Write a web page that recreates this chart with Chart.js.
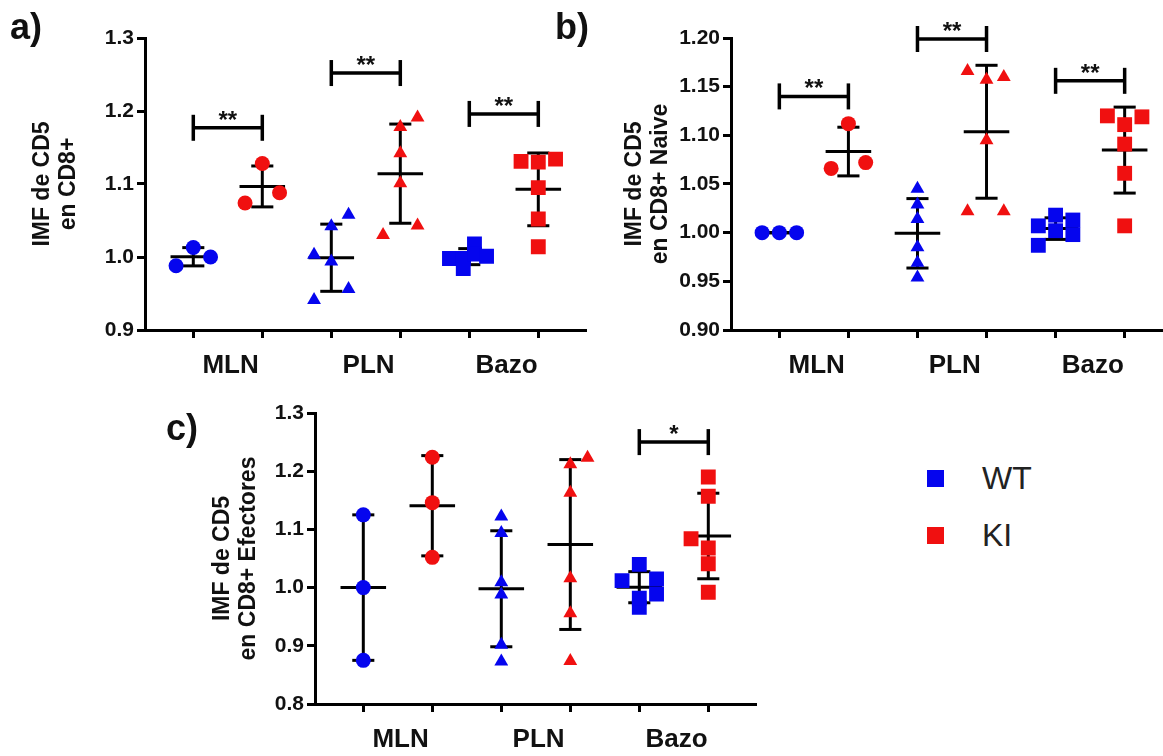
<!DOCTYPE html>
<html>
<head>
<meta charset="utf-8">
<script src="https://cdn.jsdelivr.net/npm/chart.js@4.4.1/dist/chart.umd.min.js"></script>
<style>
  html, body { margin: 0; padding: 0; background: #fff; overflow: hidden; }
  #page { position: relative; width: 1163px; height: 756px; overflow: hidden;
          font-family: "Liberation Sans", Arial, Helvetica, sans-serif; }
  canvas { position: absolute; }
  .tag { position: absolute; font-weight: bold; font-size: 36px; line-height: 1; color: #111; }
  #legend { position: absolute; left: 927px; top: 450px; font-size: 32px; color: #222; }
  .item { display: flex; align-items: center; height: 57px; }
  .sw { width: 17px; height: 17px; margin-right: 38px; }
</style>
</head>
<body>
<div id="page">
  <canvas id="ca" width="600" height="390" style="left:0;top:0"></canvas>
  <canvas id="cb" width="600" height="390" style="left:590px;top:0"></canvas>
  <canvas id="cc" width="620" height="376" style="left:150px;top:380px"></canvas>
  <div class="tag" style="left:10px;top:9px">a)</div>
  <div class="tag" style="left:555px;top:9px">b)</div>
  <div class="tag" style="left:166px;top:410px">c)</div>
  <div id="legend"></div>
</div>
<script>
const family = '"Liberation Sans", Arial, Helvetica, sans-serif';

const categories = ['MLN', 'PLN', 'Bazo'];
const seriesNames = ['WT', 'KI'];
const seriesColors = ['#0505ee', '#f01010'];

// a) IMF de CD5 en CD8+
const aTitle = ['IMF de CD5', 'en CD8+'];
const aTicks = [0.9, 1.0, 1.1, 1.2, 1.3];
const aWT = [[0.988, 1.013, 1.000], [1.003, 0.941, 0.994, 1.042, 1.058, 0.956], [0.998, 0.984, 0.998, 1.018, 1.004, 1.001]];
const aKI = [[1.074, 1.128, 1.088], [1.030, 1.178, 1.142, 1.101, 1.191, 1.043], [1.131, 1.130, 1.134, 1.095, 1.052, 1.014]];
const aSig = ['**', '**', '**'];
const aSigY = [1.177, 1.252, 1.196];

// b) IMF de CD5 en CD8+ Naive
const bTitle = ['IMF de CD5', 'en CD8+ Naive'];
const bTicks = [0.90, 0.95, 1.00, 1.05, 1.10, 1.15, 1.20];
const bWT = [[1.000, 1.000, 1.000], [1.045, 1.029, 1.014, 0.985, 0.969, 0.954], [1.007, 0.987, 1.018, 1.002, 1.013, 0.998]];
const bKI = [[1.066, 1.112, 1.072], [1.166, 1.157, 1.160, 1.095, 1.022, 1.022], [1.120, 1.111, 1.119, 1.091, 1.061, 1.007]];
const bSig = ['**', '**', '**'];
const bSigY = [1.140, 1.199, 1.156];

// c) IMF de CD5 en CD8+ Efectores
const cTitle = ['IMF de CD5', 'en CD8+ Efectores'];
const cTicks = [0.8, 0.9, 1.0, 1.1, 1.2, 1.3];
const cWT = [[1.125, 1.000, 0.875], [1.122, 1.094, 1.009, 0.988, 0.902, 0.873], [1.012, 1.040, 1.015, 0.989, 0.966, 0.982]];
const cKI = [[1.224, 1.146, 1.052], [1.212, 1.223, 1.163, 1.016, 0.956, 0.874], [1.190, 1.157, 1.084, 1.068, 1.041, 0.992]];
const cSig = ['', '', '*'];
const cSigY = [null, null, 1.250];

// where each point sits inside its column (-1 left, 0 centre, 1 right)
const aJitWT = [[-1, 0, 1], [-1, -1, 0, 0, 1, 1], [-1.15, -0.35, -0.35, 0.3, 0.3, 1]];
const aJitKI = [[-1, 0, 1], [-1, 0, 0, 0, 1, 1], [-1, 0, 1, 0, 0, 0]];
const bJitWT = [[-1, 0, 1], [0, 0, 0, 0, 0, 0], [-1, -1, 0, 0, 1, 1]];
const bJitKI = [[-1, 0, 1], [-1.1, 0, 1, 0, -1.1, 1], [-1, 0, 1, 0, 0, 0]];
const cJitWT = [[0, 0, 0], [0, 0, 0, 0, 0, 0], [-1, 0, 1, 1, 0, 0]];
const cJitKI = [[0, 0, 0], [0, 1, 0, 0, 0, 0], [0, 0, -1, 0, 0, 0]];

const markerStyle = ['circle', 'triangle', 'rect'];
const markerSize = [7.5, 8, 10.5];
const jitterStep = 0.25;
const meanHalf = 0.33, capHalf = 0.16;

const mean = a => a.reduce((s, v) => s + v, 0) / a.length;
const stdev = a => { const m = mean(a); return Math.sqrt(a.reduce((s, v) => s + (v - m) ** 2, 0) / (a.length - 1)); };
const colX = (g, s) => 2 * g + s + 1;
const labelPos = categories.map((c, g) => 2 * g + 1.5 + 0.04);

// legend
document.getElementById('legend').innerHTML = seriesNames.map((n, i) =>
  `<div class="item"><div class="sw" style="background:${seriesColors[i]}"></div><span>${n}</span></div>`).join('');

function marksPlugin(values, sig, sigY) {
  return {
    id: 'marks',
    beforeDatasetsDraw(chart) {
      const { ctx, scales: { x, y } } = chart;
      ctx.save();
      ctx.strokeStyle = '#000';
      ctx.lineCap = 'butt';
      const seg = (x1, y1, x2, y2) => { ctx.beginPath(); ctx.moveTo(x1, y1); ctx.lineTo(x2, y2); ctx.stroke(); };
      ctx.lineWidth = 3;
      values.forEach((ser, s) => ser.forEach((vals, g) => {
        const c = colX(g, s);
        const m = mean(vals), d = stdev(vals);
        const px = x.getPixelForValue(c);
        const mw = x.getPixelForValue(c + meanHalf) - px;
        const cw = x.getPixelForValue(c + capHalf) - px;
        const yt = y.getPixelForValue(m + d), yb = y.getPixelForValue(m - d), ym = y.getPixelForValue(m);
        seg(px, yt, px, yb);
        seg(px - cw, yt, px + cw, yt);
        seg(px - cw, yb, px + cw, yb);
        seg(px - mw, ym, px + mw, ym);
      }));
      ctx.lineWidth = 3.5;
      ctx.fillStyle = '#111';
      ctx.font = `bold 24px ${family}`;
      ctx.textAlign = 'center';
      ctx.textBaseline = 'alphabetic';
      sig.forEach((txt, g) => {
        if (!txt) return;
        const x1 = x.getPixelForValue(colX(g, 0)), x2 = x.getPixelForValue(colX(g, 1));
        const yp = y.getPixelForValue(sigY[g]);
        seg(x1, yp, x2, yp);
        seg(x1, yp - 13, x1, yp + 13);
        seg(x2, yp - 13, x2, yp + 13);
        ctx.fillText(txt, (x1 + x2) / 2, yp);
      });
      ctx.restore();
    }
  };
}

function panel(id, p) {
  const datasets = seriesNames.map((name, s) => ({
    label: name,
    data: p.values[s].flatMap((vals, g) => vals.map((v, i) => ({ x: colX(g, s) + p.jitter[s][g][i] * jitterStep, y: v, g }))),
    pointBackgroundColor: seriesColors[s],
    pointBorderColor: seriesColors[s],
    pointBorderWidth: 0,
    pointStyle: c => markerStyle[c.raw ? c.raw.g : 0],
    pointRadius: c => markerSize[c.raw ? c.raw.g : 0],
  }));
  const xTicks = [1, 2, 3, 4, 5, 6].concat(labelPos).sort((a, b) => a - b);
  new Chart(document.getElementById(id), {
    type: 'scatter',
    data: { datasets },
    plugins: [marksPlugin(p.values, p.sig, p.sigY)],
    options: {
      responsive: false,
      animation: false,
      events: [],
      layout: { padding: p.pad },
      plugins: { legend: { display: false }, tooltip: { enabled: false } },
      scales: {
        x: {
          type: 'linear', min: 0.3, max: 6.7,
          afterBuildTicks: sc => { sc.ticks = xTicks.map(v => ({ value: v })); },
          afterFit: sc => { sc.height = p.xHeight; },
          ticks: {
            autoSkip: false, maxRotation: 0, padding: 12, color: '#111',
            font: { family, size: 26, weight: 'bold' },
            callback: v => { const k = labelPos.indexOf(v); return k >= 0 ? categories[k] : ''; }
          },
          grid: {
            drawOnChartArea: false, tickLength: 8, tickWidth: 3,
            tickColor: c => (c.tick && Number.isInteger(c.tick.value)) ? '#000' : 'rgba(0,0,0,0)'
          },
          border: { display: true, width: 3, color: '#000' }
        },
        y: {
          type: 'linear', min: p.ticks[0], max: p.ticks[p.ticks.length - 1],
          afterBuildTicks: sc => { sc.ticks = p.ticks.map(v => ({ value: v })); },
          afterFit: sc => { sc.width = p.yWidth; },
          ticks: {
            padding: 3, color: '#111',
            font: { family, size: 21, weight: 'bold' },
            callback: v => v.toFixed(p.dec)
          },
          grid: { drawOnChartArea: false, tickLength: 8, tickWidth: 3, tickColor: '#000' },
          border: { display: true, width: 3, color: '#000' },
          title: {
            display: true, text: p.title, color: '#111',
            font: { family, size: 23, weight: 'bold', lineHeight: 1.13 },
            padding: { top: p.titlePad, bottom: 0 }
          }
        }
      }
    }
  });
}

panel('ca', { values: [aWT, aKI], jitter: [aJitWT, aJitKI], sig: aSig, sigY: aSigY, ticks: aTicks, dec: 1, title: aTitle,
  pad: { left: 0, top: 38, right: 13.4, bottom: 0 }, yWidth: 145, xHeight: 60, titlePad: 29.5 });
panel('cb', { values: [bWT, bKI], jitter: [bJitWT, bJitKI], sig: bSig, sigY: bSigY, ticks: bTicks, dec: 2, title: bTitle,
  pad: { left: 0, top: 38, right: 17, bottom: 0 }, yWidth: 141, xHeight: 60, titlePad: 32 });
panel('cc', { values: [cWT, cKI], jitter: [cJitWT, cJitKI], sig: cSig, sigY: cSigY, ticks: cTicks, dec: 1, title: cTitle,
  pad: { left: 0, top: 33, right: 13.4, bottom: 0 }, yWidth: 165, xHeight: 52, titlePad: 60 });
</script>
</body>
</html>
